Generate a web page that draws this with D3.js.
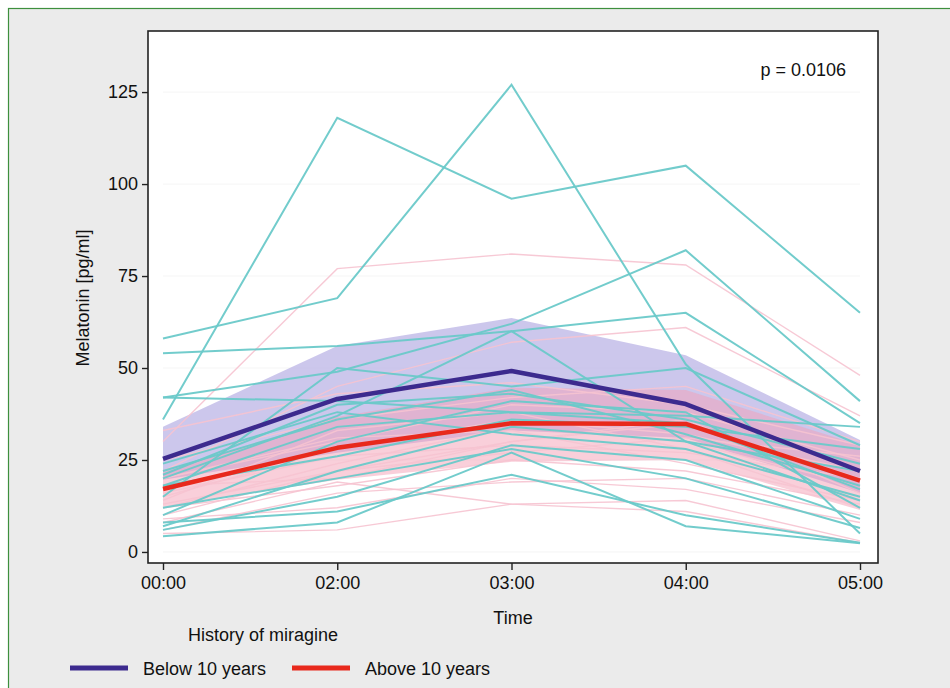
<!DOCTYPE html>
<html>
<head>
<meta charset="utf-8">
<script src="https://cdn.jsdelivr.net/npm/d3@7"></script>
<style>
  html, body { margin: 0; padding: 0; background: #fff; }
  svg { display: block; }
  text { font-family: "Liberation Sans", Arial, sans-serif; fill: #111; }
</style>
</head>
<body>
<svg id="chart" width="950" height="688"></svg>
<script>
// ---------- data ----------
const times = ["00:00", "02:00", "03:00", "04:00", "05:00"];
const yTicks = [0, 25, 50, 75, 100, 125];
const groups = ["Below 10 years", "Above 10 years"];

// individual subjects, group "Below 10 years" (teal)
const belowSubjects = [
  [36, 118, 96, 105, 65],
  [58, 69, 127, 51, 5],
  [42, 49, 62, 82, 41],
  [54, 56, 60, 65, 35],
  [42, 41, 38, 37, 34],
  [15, 50, 45, 50, 29],
  [20, 37, 60, 30, 22],
  [22, 36, 44, 32, 18],
  [10, 30, 41, 38, 12],
  [18, 26, 36, 34, 28],
  [24, 38, 32, 28, 15],
  [7, 22, 34, 30, 14],
  [6, 15, 29, 25, 9],
  [8, 11, 21, 10, 2.5],
  [4.3, 8, 27, 7, 2.4],
  [12, 20, 28, 20, 6.5],
  [18, 34, 38, 35, 17],
  [21, 40, 43, 36, 24]
];

// individual subjects, group "Above 10 years" (pink)
const aboveSubjects = [
  [30, 77, 81, 78, 48],
  [22, 45, 57, 61, 37],
  [33, 43, 46, 40, 29],
  [20, 30, 40, 38, 25],
  [15, 28, 36, 32, 22],
  [12, 24, 34, 30, 18],
  [18, 20, 30, 35, 20],
  [14, 33, 38, 28, 12],
  [10, 22, 30, 36, 16],
  [5, 6, 13, 14, 3],
  [6, 16, 19, 20, 10],
  [8, 19, 13, 11, 2.5],
  [12, 18, 25, 22, 13],
  [16, 26, 29, 27, 20],
  [25, 36, 42, 45, 30],
  [9, 12, 20, 17, 8],
  [20, 31, 33, 24, 14],
  [13, 22, 27, 31, 26]
];

// group means and bands
const belowMean  = [25.3, 41.6, 49.2, 40.2, 22.0];
const belowUpper = [34.0, 56.0, 63.6, 53.5, 30.4];
const belowLower = [19.6, 27.0, 33.0, 31.0, 16.0];
const aboveMean  = [17.1, 28.3, 35.0, 34.8, 19.4];
const aboveUpper = [21.7, 36.7, 44.6, 44.0, 29.0];
const aboveLower = [12.3, 19.6, 24.5, 25.0, 11.4];

const pLabel = "p = 0.0106";

// ---------- drawing ----------
const svg = d3.select("#chart");
const W = 950, H = 688;
const plot = { left: 148, top: 31, right: 878, bottom: 563 };
const FS = 18;

// background + frame
svg.append("rect").attr("x", 0).attr("y", 0).attr("width", W).attr("height", H).attr("fill", "#fff");
svg.append("rect").attr("x", 8.5).attr("y", 8.5).attr("width", W + 20).attr("height", H + 20)
  .attr("fill", "#ebebeb").attr("stroke", "#3d8f3d").attr("stroke-width", 1.2);

svg.append("rect").attr("x", plot.left).attr("y", plot.top)
  .attr("width", plot.right - plot.left).attr("height", plot.bottom - plot.top)
  .attr("fill", "#fff");

const x = d3.scalePoint().domain(times).range([163, 860]);
const y = d3.scaleLinear().domain([-3, 141.6]).range([plot.bottom, plot.top]);

// faint grid
svg.append("g").selectAll("line").data(yTicks).join("line")
  .attr("x1", x(times[0])).attr("x2", x(times[times.length - 1]))
  .attr("y1", d => y(d)).attr("y2", d => y(d))
  .attr("stroke", "#f5f5f5").attr("stroke-width", 1);

const line = d3.line().x((d, i) => x(times[i])).y(d => y(d));
const area = (lo, hi) => d3.area()
  .x((d, i) => x(times[i]))
  .y0((d, i) => y(lo[i]))
  .y1((d, i) => y(hi[i]))(times);

// bands
svg.append("path").attr("d", area(belowLower, belowUpper))
  .attr("fill", "#b6afe4").attr("fill-opacity", 0.7);
svg.append("path").attr("d", area(aboveLower, aboveUpper))
  .attr("fill", "#f4a0b6").attr("fill-opacity", 0.5);

// individual lines
svg.append("g").selectAll("path").data(aboveSubjects).join("path")
  .attr("d", line).attr("fill", "none")
  .attr("stroke", "#f6c3d0").attr("stroke-width", 1.4).attr("stroke-opacity", 0.9);
svg.append("g").selectAll("path").data(belowSubjects).join("path")
  .attr("d", line).attr("fill", "none")
  .attr("stroke", "#6ac9c9").attr("stroke-width", 2).attr("stroke-opacity", 0.95);

// means
svg.append("path").attr("d", line(belowMean)).attr("fill", "none")
  .attr("stroke", "#3c2a8e").attr("stroke-width", 4.5).attr("stroke-linejoin", "round");
svg.append("path").attr("d", line(aboveMean)).attr("fill", "none")
  .attr("stroke", "#e8291c").attr("stroke-width", 4.5).attr("stroke-linejoin", "round");

// plot border
svg.append("rect").attr("x", plot.left).attr("y", plot.top)
  .attr("width", plot.right - plot.left).attr("height", plot.bottom - plot.top)
  .attr("fill", "none").attr("stroke", "#222").attr("stroke-width", 1.6);

// axes
const yAxis = d3.axisLeft(y).tickValues(yTicks).tickSize(6).tickPadding(4);
const gy = svg.append("g").attr("transform", `translate(${plot.left},0)`).call(yAxis);
gy.select(".domain").remove();
gy.selectAll("line").attr("stroke", "#222").attr("stroke-width", 1.4);
gy.selectAll("text").attr("font-size", FS).attr("font-family", "Liberation Sans, Arial, sans-serif").attr("fill", "#111");

const xAxis = d3.axisBottom(x).tickSize(7).tickPadding(6);
const gx = svg.append("g").attr("transform", `translate(0,${plot.bottom})`).call(xAxis);
gx.select(".domain").remove();
gx.selectAll("line").attr("stroke", "#222").attr("stroke-width", 1.4);
gx.selectAll("text").attr("font-size", FS).attr("font-family", "Liberation Sans, Arial, sans-serif").attr("fill", "#111");

// labels
svg.append("text").attr("transform", "translate(89,298) rotate(-90)")
  .attr("text-anchor", "middle").attr("font-size", FS).text("Melatonin [pg/ml]");
svg.append("text").attr("x", 513).attr("y", 624).attr("text-anchor", "middle")
  .attr("font-size", FS).text("Time");
svg.append("text").attr("x", 846).attr("y", 76).attr("text-anchor", "end")
  .attr("font-size", FS).text(pLabel);
svg.append("text").attr("x", 188).attr("y", 641).attr("font-size", FS).text("History of miragine");

// legend
const legColors = ["#3c2a8e", "#e8291c"];
const legX = [70, 292];
groups.forEach((g, i) => {
  svg.append("line").attr("x1", legX[i]).attr("x2", legX[i] + 58)
    .attr("y1", 668).attr("y2", 668)
    .attr("stroke", legColors[i]).attr("stroke-width", 5);
  svg.append("text").attr("x", legX[i] + 73).attr("y", 675)
    .attr("font-size", FS).text(g);
});
</script>
</body>
</html>
